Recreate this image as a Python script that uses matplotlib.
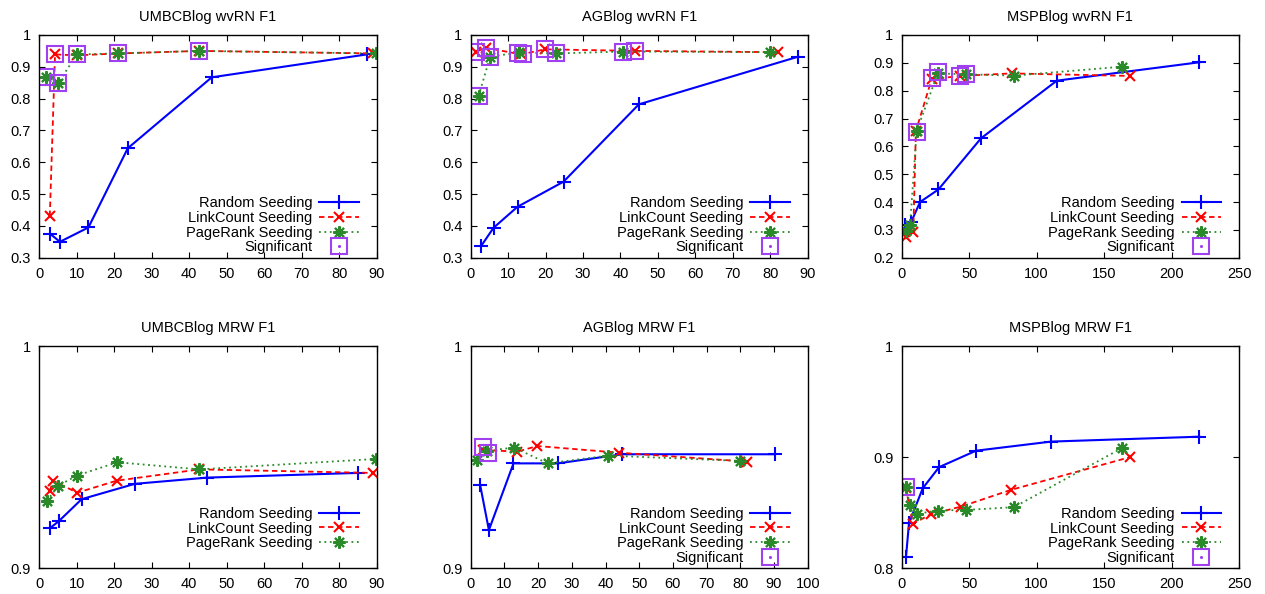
import numpy as np
import matplotlib.pyplot as plt
from matplotlib.lines import Line2D

plt.rcParams['font.family'] = ['Liberation Sans', 'DejaVu Sans']

# ---- data ----
# UMBCBlog wvRN
umbc_wvrn_rand_x = [2.8, 5.5, 13.1, 23.6, 46.0, 87.4]
umbc_wvrn_rand_y = [0.376, 0.350, 0.395, 0.644, 0.867, 0.939]
umbc_wvrn_link_x = [2.8, 4.2, 10.0, 21.1, 42.7, 89.0]
umbc_wvrn_link_y = [0.431, 0.939, 0.936, 0.942, 0.950, 0.942]
umbc_wvrn_page_x = [1.8, 5.1, 10.0, 21.0, 42.7, 89.9]
umbc_wvrn_page_y = [0.869, 0.850, 0.939, 0.942, 0.950, 0.942]
umbc_wvrn_sig_x = [1.8, 4.2, 5.1, 10.0, 21.0, 42.7]
umbc_wvrn_sig_y = [0.869, 0.939, 0.850, 0.939, 0.942, 0.950]

# AGBlog wvRN
ag_wvrn_rand_x = [2.8, 6.1, 12.5, 24.8, 44.9, 87.5]
ag_wvrn_rand_y = [0.337, 0.394, 0.460, 0.539, 0.782, 0.932]
ag_wvrn_link_x = [1.4, 4.0, 13.4, 19.9, 43.9, 82.0]
ag_wvrn_link_y = [0.947, 0.960, 0.939, 0.955, 0.950, 0.946]
ag_wvrn_page_x = [2.1, 5.2, 12.9, 22.8, 40.8, 79.8]
ag_wvrn_page_y = [0.808, 0.932, 0.945, 0.942, 0.948, 0.946]
ag_wvrn_sig_x = [1.4, 4.0, 5.2, 2.1, 12.5, 14.1, 19.9, 22.8, 40.8, 43.9]
ag_wvrn_sig_y = [0.947, 0.960, 0.932, 0.808, 0.944, 0.939, 0.955, 0.942, 0.948, 0.950]

# MSPBlog wvRN
msp_wvrn_rand_x = [2.5, 6.9, 13.6, 27.2, 58.8, 115.0, 220.6]
msp_wvrn_rand_y = [0.317, 0.327, 0.400, 0.445, 0.629, 0.836, 0.902]
msp_wvrn_link_x = [3.2, 8.6, 10.5, 22.2, 43.2, 81.5, 169.0]
msp_wvrn_link_y = [0.273, 0.291, 0.655, 0.841, 0.853, 0.862, 0.853]
msp_wvrn_page_x = [3.0, 6.2, 11.1, 26.7, 47.4, 83.2, 163.0]
msp_wvrn_page_y = [0.296, 0.317, 0.655, 0.862, 0.859, 0.854, 0.886]
msp_wvrn_sig_x = [11.1, 22.2, 26.7, 43.2, 47.4]
msp_wvrn_sig_y = [0.653, 0.845, 0.867, 0.853, 0.859]

# UMBCBlog MRW
umbc_mrw_rand_x = [2.8, 5.2, 11.3, 25.5, 44.8, 84.9]
umbc_mrw_rand_y = [0.9180, 0.9212, 0.9311, 0.9380, 0.9408, 0.9429]
umbc_mrw_link_x = [2.8, 3.7, 10.1, 20.6, 42.7, 89.0]
umbc_mrw_link_y = [0.9349, 0.9394, 0.9340, 0.9394, 0.9445, 0.9429]
umbc_mrw_page_x = [2.0, 5.1, 10.0, 20.8, 42.7, 89.9]
umbc_mrw_page_y = [0.9303, 0.9372, 0.9417, 0.9477, 0.9445, 0.9492]

# AGBlog MRW
ag_mrw_rand_x = [2.8, 5.4, 12.7, 25.8, 45.0, 90.3]
ag_mrw_rand_y = [0.9375, 0.9172, 0.9472, 0.9472, 0.9513, 0.9513]
ag_mrw_link_x = [3.6, 13.8, 19.8, 44.0, 82.0]
ag_mrw_link_y = [0.9532, 0.9525, 0.9550, 0.9520, 0.9480]
ag_mrw_page_x = [1.8, 4.7, 12.9, 22.8, 40.8, 80.0]
ag_mrw_page_y = [0.9487, 0.9529, 0.9543, 0.9472, 0.9507, 0.9483]
ag_mrw_sig_x = [3.7, 5.0]
ag_mrw_sig_y = [0.9544, 0.9520]

# MSPBlog MRW
msp_mrw_rand_x = [3.2, 5.4, 15.6, 27.7, 55.1, 110.7, 220.6]
msp_mrw_rand_y = [0.8105, 0.8405, 0.8720, 0.8910, 0.9058, 0.9140, 0.9184]
msp_mrw_link_x = [3.0, 8.2, 21.5, 44.0, 80.8, 169.2]
msp_mrw_link_y = [0.8726, 0.8400, 0.8486, 0.8555, 0.8705, 0.9000]
msp_mrw_page_x = [3.0, 6.2, 11.1, 26.7, 47.7, 83.2, 163.0]
msp_mrw_page_y = [0.8735, 0.8570, 0.8490, 0.8520, 0.8525, 0.8550, 0.9080]
msp_mrw_sig_x = [3.2]
msp_mrw_sig_y = [0.8735]

panels = [
    ("UMBCBlog wvRN F1", umbc_wvrn_rand_x, umbc_wvrn_rand_y, umbc_wvrn_link_x, umbc_wvrn_link_y,
     umbc_wvrn_page_x, umbc_wvrn_page_y, umbc_wvrn_sig_x, umbc_wvrn_sig_y,
     (0, 90, 10), (0.3, 1.0, 0.1)),
    ("AGBlog wvRN F1", ag_wvrn_rand_x, ag_wvrn_rand_y, ag_wvrn_link_x, ag_wvrn_link_y,
     ag_wvrn_page_x, ag_wvrn_page_y, ag_wvrn_sig_x, ag_wvrn_sig_y,
     (0, 90, 10), (0.3, 1.0, 0.1)),
    ("MSPBlog wvRN F1", msp_wvrn_rand_x, msp_wvrn_rand_y, msp_wvrn_link_x, msp_wvrn_link_y,
     msp_wvrn_page_x, msp_wvrn_page_y, msp_wvrn_sig_x, msp_wvrn_sig_y,
     (0, 250, 50), (0.2, 1.0, 0.1)),
    ("UMBCBlog MRW F1", umbc_mrw_rand_x, umbc_mrw_rand_y, umbc_mrw_link_x, umbc_mrw_link_y,
     umbc_mrw_page_x, umbc_mrw_page_y, None, None,
     (0, 90, 10), (0.9, 1.0, 0.1)),
    ("AGBlog MRW F1", ag_mrw_rand_x, ag_mrw_rand_y, ag_mrw_link_x, ag_mrw_link_y,
     ag_mrw_page_x, ag_mrw_page_y, ag_mrw_sig_x, ag_mrw_sig_y,
     (0, 100, 10), (0.9, 1.0, 0.1)),
    ("MSPBlog MRW F1", msp_mrw_rand_x, msp_mrw_rand_y, msp_mrw_link_x, msp_mrw_link_y,
     msp_mrw_page_x, msp_mrw_page_y, msp_mrw_sig_x, msp_mrw_sig_y,
     (0, 250, 50), (0.8, 1.0, 0.1)),
]

W, H = 1265, 594
fig = plt.figure(figsize=(W / 100, H / 100), dpi=100)

# axes boxes in pixels: (left, right), (top, bottom)
cols = [(39.3, 376.7), (470.7, 807.7), (901.7, 1239.0)]
rows = [(35.0, 257.7), (346.0, 568.3)]

purple = '#a040f0'
green = '#2a8a2a'
fs = 10.5

for i, p in enumerate(panels):
    title, rx, ry, lx, ly, px, py, sx, sy, xr, yr = p
    (l, r), (t, b) = cols[i % 3], rows[i // 3]
    ax = fig.add_axes([l / W, 1 - b / H, (r - l) / W, (b - t) / H])

    h1, = ax.plot(rx, ry, color='#0000ff', lw=1.5, marker='+', ms=9.5, mew=1.5)
    h2, = ax.plot(lx, ly, color='#ff0000', lw=1.3, ls=(0, (3, 2)), marker='x', ms=7, mew=1.5)
    h3, = ax.plot(px, py, color=green, lw=1.3, ls=(0, (1, 2)), marker=(8, 2, 0), ms=9, mew=1.5)
    handles = [h1, h2, h3]
    labels = ['Random Seeding', 'LinkCount Seeding', 'PageRank Seeding']
    if sx is not None:
        h4, = ax.plot(sx, sy, ls='none', marker='s', ms=11.5, mfc='none', mec=purple, mew=1.5)
        dot = Line2D([], [], ls='none', marker='.', ms=2.5, color=purple)
        handles.append((h4, dot))
        labels.append('Significant')
    else:
        # gnuplot keeps the empty fourth key row
        handles.append(Line2D([], [], ls='none'))
        labels.append(' ')

    ax.set_xlim(xr[0], xr[1])
    ax.set_ylim(yr[0], yr[1])
    ax.set_xticks(np.arange(xr[0], xr[1] + 0.001, xr[2]))
    yt = np.round(np.arange(yr[0], yr[1] + 0.001, yr[2]), 2)
    ax.set_yticks(yt)
    ax.set_yticklabels(['1' if v == 1 else f'{v:g}' for v in yt])
    ax.tick_params(direction='in', top=True, right=True, length=4, labelsize=fs, width=0.8)
    ax.tick_params(axis='x', pad=6.5)
    ax.tick_params(axis='y', pad=6)
    for s in ax.spines.values():
        s.set_linewidth(1.0)
    ax.set_title(title, fontsize=10.5, pad=10)

    aw, ah = r - l, b - t
    ax.legend(handles, labels, loc='lower right', markerfirst=False, frameon=False,
              fontsize=fs, handlelength=2.7, handletextpad=0.5, labelspacing=0.05,
              borderaxespad=0, bbox_to_anchor=(1 - 12 / aw, -2.5 / ah))

fig.savefig('out.png', dpi=100)
